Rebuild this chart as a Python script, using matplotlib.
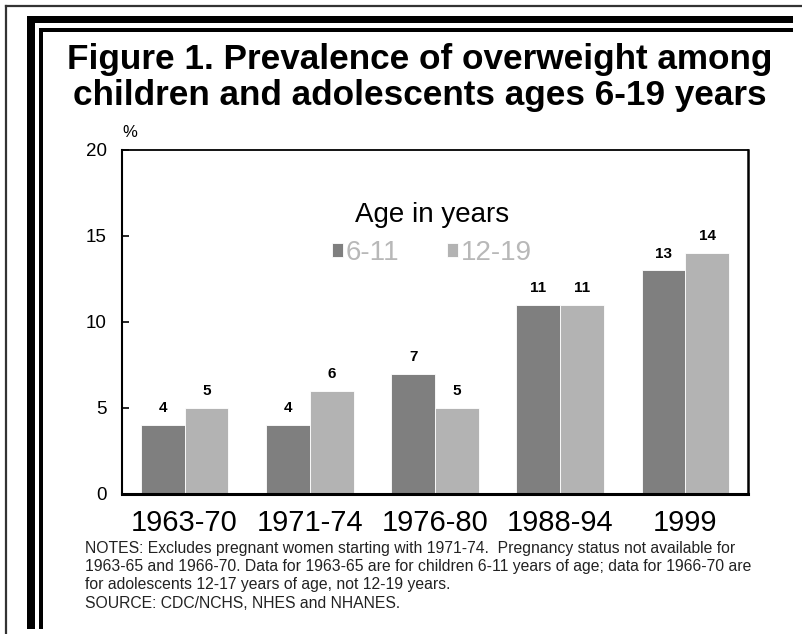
import matplotlib
matplotlib.use('Agg')
import matplotlib.pyplot as plt
from matplotlib import font_manager
from matplotlib.patches import Rectangle
from matplotlib.lines import Line2D
import numpy as np

# Datos
periods = ['1963-70', '1971-74', '1976-80', '1988-94', '1999']
ages_6_11 = [4, 4, 7, 11, 13]
ages_12_19 = [5, 6, 5, 11, 14]
series_labels = ['6-11', '12-19']
yticks = [0, 5, 10, 15, 20]

dark = '#7f7f7f'
light = '#b3b3b3'

available = {f.name for f in font_manager.fontManager.ttflist}
main_font = 'Liberation Sans' if 'Liberation Sans' in available else 'DejaVu Sans'
narrow_font = 'Liberation Sans Narrow' if 'Liberation Sans Narrow' in available else main_font
plt.rcParams['font.family'] = main_font

W, H = 803, 634
fig = plt.figure(figsize=(W / 100, H / 100), dpi=100)

def fx(px):
    return px / W

def fy(py):
    return 1 - py / H

# marco exterior y lineas negras
fig.add_artist(Line2D([fx(6), fx(6)], [fy(6), fy(640)], transform=fig.transFigure, color='#333333', lw=1.6))
fig.add_artist(Line2D([fx(6), fx(810)], [fy(6), fy(6)], transform=fig.transFigure, color='#333333', lw=1.6))
for x0, y0, w, h in [(27, 16, 766, 7), (27, 16, 8, 613), (39, 28, 754, 4), (39, 28, 4, 601)]:
    fig.add_artist(Rectangle((fx(x0), fy(y0 + h)), w / W, h / H, transform=fig.transFigure,
                             facecolor='black', edgecolor='none'))

# titulo
fig.text(fx(420), fy(60), 'Figure 1. Prevalence of overweight among', ha='center', va='center',
         fontsize=25.3, fontweight='bold')
fig.text(fx(420), fy(96), 'children and adolescents ages 6-19 years', ha='center', va='center',
         fontsize=25.3, fontweight='bold')

ax = fig.add_axes([fx(122), fy(494), (748 - 122) / W, (494 - 150) / H])
x = np.arange(len(periods))
w = 0.35
b1 = ax.bar(x - w / 2, ages_6_11, w, color=dark, edgecolor='white', lw=0.6, label=series_labels[0])
b2 = ax.bar(x + w / 2, ages_12_19, w, color=light, edgecolor='white', lw=0.6, label=series_labels[1])
for bars in (b1, b2):
    ax.bar_label(bars, padding=7, fontsize=11, fontweight='bold')

ax.set_xlim(-0.5, 4.5)
ax.set_ylim(0, 20)
ax.set_yticks(yticks)
ax.set_xticks(x)
ax.set_xticklabels(periods, fontsize=21)
ax.tick_params(axis='x', length=0, pad=11)
ax.tick_params(axis='y', direction='in', length=5, width=1.2, labelsize=13.5, pad=11)
for side, lw in [('left', 1.5), ('top', 1.3), ('right', 1.8), ('bottom', 2.2)]:
    ax.spines[side].set_linewidth(lw)
ax.text(0.0, 1.03, '%', transform=ax.transAxes, fontsize=12, ha='left', va='bottom')

leg = ax.legend(handles=[b1, b2], title='Age in years', ncol=2, loc='upper center',
                bbox_to_anchor=(0.495, 0.89), frameon=False, fontsize=20, title_fontsize=20,
                handlelength=0.4, handleheight=0.4, handletextpad=0.1, columnspacing=1.7,
                labelcolor='#b8b8b8', borderpad=0, labelspacing=0.45)

notes = [
    'NOTES: Excludes pregnant women starting with 1971-74.  Pregnancy status not available for',
    '1963-65 and 1966-70. Data for 1963-65 are for children 6-11 years of age; data for 1966-70 are',
    'for adolescents 12-17 years of age, not 12-19 years.',
    'SOURCE: CDC/NCHS, NHES and NHANES.',
]
for i, line in enumerate(notes):
    fig.text(fx(85), fy(548 + i * 18.5), line, ha='left', va='center', fontsize=11.3,
             family=narrow_font, color='#222222')

fig.savefig('out.png', dpi=100)
